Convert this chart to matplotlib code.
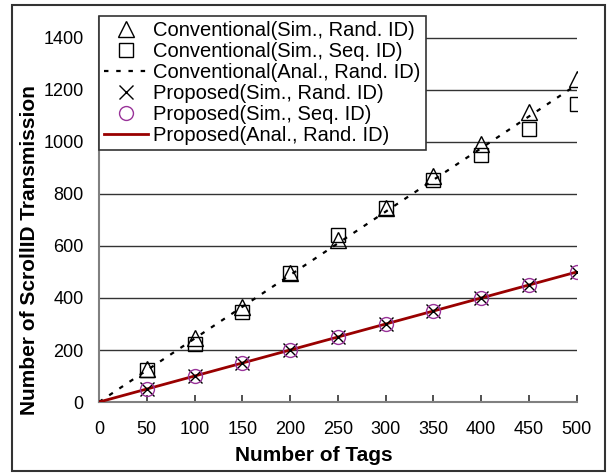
import matplotlib
matplotlib.use('Agg')
import matplotlib.pyplot as plt
from matplotlib.patches import Rectangle

# ---------------------------------------------------------------------------
# Data
# ---------------------------------------------------------------------------
tags = [50, 100, 150, 200, 250, 300, 350, 400, 450, 500]
conv_sim_rand = [126, 246, 366, 495, 623, 745, 869, 991, 1116, 1240]
conv_sim_seq = [122, 224, 345, 497, 644, 745, 852, 950, 1048, 1146]
anal_tags = [0, 50, 100, 150, 200, 250, 300, 350, 400, 450, 500]
conv_anal_rand = [0, 122, 244, 366, 488, 610, 732, 854, 976, 1098, 1220]
prop_sim_rand = [50, 100, 150, 200, 250, 300, 350, 400, 450, 500]
prop_sim_seq = [50, 100, 150, 200, 250, 300, 350, 400, 450, 500]
prop_anal_rand = [0, 50, 100, 150, 200, 250, 300, 350, 400, 450, 500]

x_ticks = [0, 50, 100, 150, 200, 250, 300, 350, 400, 450, 500]
y_ticks = [0, 200, 400, 600, 800, 1000, 1200, 1400]

RED = '#990000'
PURPLE = '#993399'

plt.rcParams['font.family'] = ['Liberation Sans', 'DejaVu Sans']

fig = plt.figure(figsize=(6.11, 4.73), dpi=100)
fig.patch.set_facecolor('white')
ax = fig.add_axes([0.162, 0.150, 0.782, 0.814])

# outer chart frame
fig.patches.append(Rectangle((0.0196, 0.004), 0.9705, 0.985, transform=fig.transFigure,
                             fill=False, edgecolor='#333333', linewidth=1.5))

for y in y_ticks[1:]:
    ax.axhline(y, color='#333333', linewidth=1.0, zorder=1)

ax.plot(anal_tags, conv_anal_rand, color='black', linewidth=1.6,
        linestyle=(0, (2, 3.5)), zorder=3, label='Conventional(Anal., Rand. ID)')
ax.plot(anal_tags, prop_anal_rand, color=RED, linewidth=2.0, zorder=3,
        label='Proposed(Anal., Rand. ID)')
ax.plot(tags, conv_sim_rand, linestyle='none', marker='^', markersize=11.5,
        markerfacecolor='none', markeredgecolor='black', markeredgewidth=1.0,
        zorder=4, label='Conventional(Sim., Rand. ID)')
ax.plot(tags, conv_sim_seq, linestyle='none', marker='s', markersize=10,
        markerfacecolor='none', markeredgecolor='black', markeredgewidth=1.0,
        zorder=4, label='Conventional(Sim., Seq. ID)')
ax.plot(tags, prop_sim_rand, linestyle='none', marker='x', markersize=10,
        markeredgecolor='black', markeredgewidth=1.0,
        zorder=5, label='Proposed(Sim., Rand. ID)')
ax.plot(tags, prop_sim_seq, linestyle='none', marker='o', markersize=10,
        markerfacecolor='none', markeredgecolor=PURPLE, markeredgewidth=1.0,
        zorder=5, label='Proposed(Sim., Seq. ID)')

ax.set_xlim(0, 500)
ax.set_ylim(0, 1480)
ax.set_xticks(x_ticks)
ax.set_xticklabels([str(v) for v in x_ticks])
ax.set_yticks(y_ticks)
ax.set_yticklabels([str(v) for v in y_ticks])
ax.tick_params(axis='x', direction='in', length=5, width=1.2, color='#333333',
               labelsize=13, pad=14)
ax.tick_params(axis='y', length=0, labelsize=13, pad=11)

for side in ('top', 'right'):
    ax.spines[side].set_visible(False)
for side in ('left', 'bottom'):
    ax.spines[side].set_color('#808080')
    ax.spines[side].set_linewidth(1.5)

ax.set_xlabel('Number of Tags', fontsize=15, fontweight='bold', va='center')
ax.xaxis.set_label_coords(0.449, -0.138)
ax.set_ylabel('Number of ScrollID Transmission', fontsize=15, fontweight='bold',
              va='center', ha='center')
ax.yaxis.set_label_coords(-0.145, 0.395)

handles, labels = ax.get_legend_handles_labels()
order = [2, 3, 0, 4, 5, 1]
leg = ax.legend([handles[i] for i in order], [labels[i] for i in order],
                loc='upper left', bbox_to_anchor=(0.162, 0.966),
                bbox_transform=fig.transFigure, fontsize=14.5, frameon=True,
                fancybox=False, framealpha=1, edgecolor='#333333',
                borderpad=0.25, labelspacing=0.1, handlelength=2.2,
                handletextpad=0.25, borderaxespad=0)
leg.get_frame().set_linewidth(1.2)
leg.set_zorder(10)

fig.savefig('out.png', dpi=100, facecolor='white')
